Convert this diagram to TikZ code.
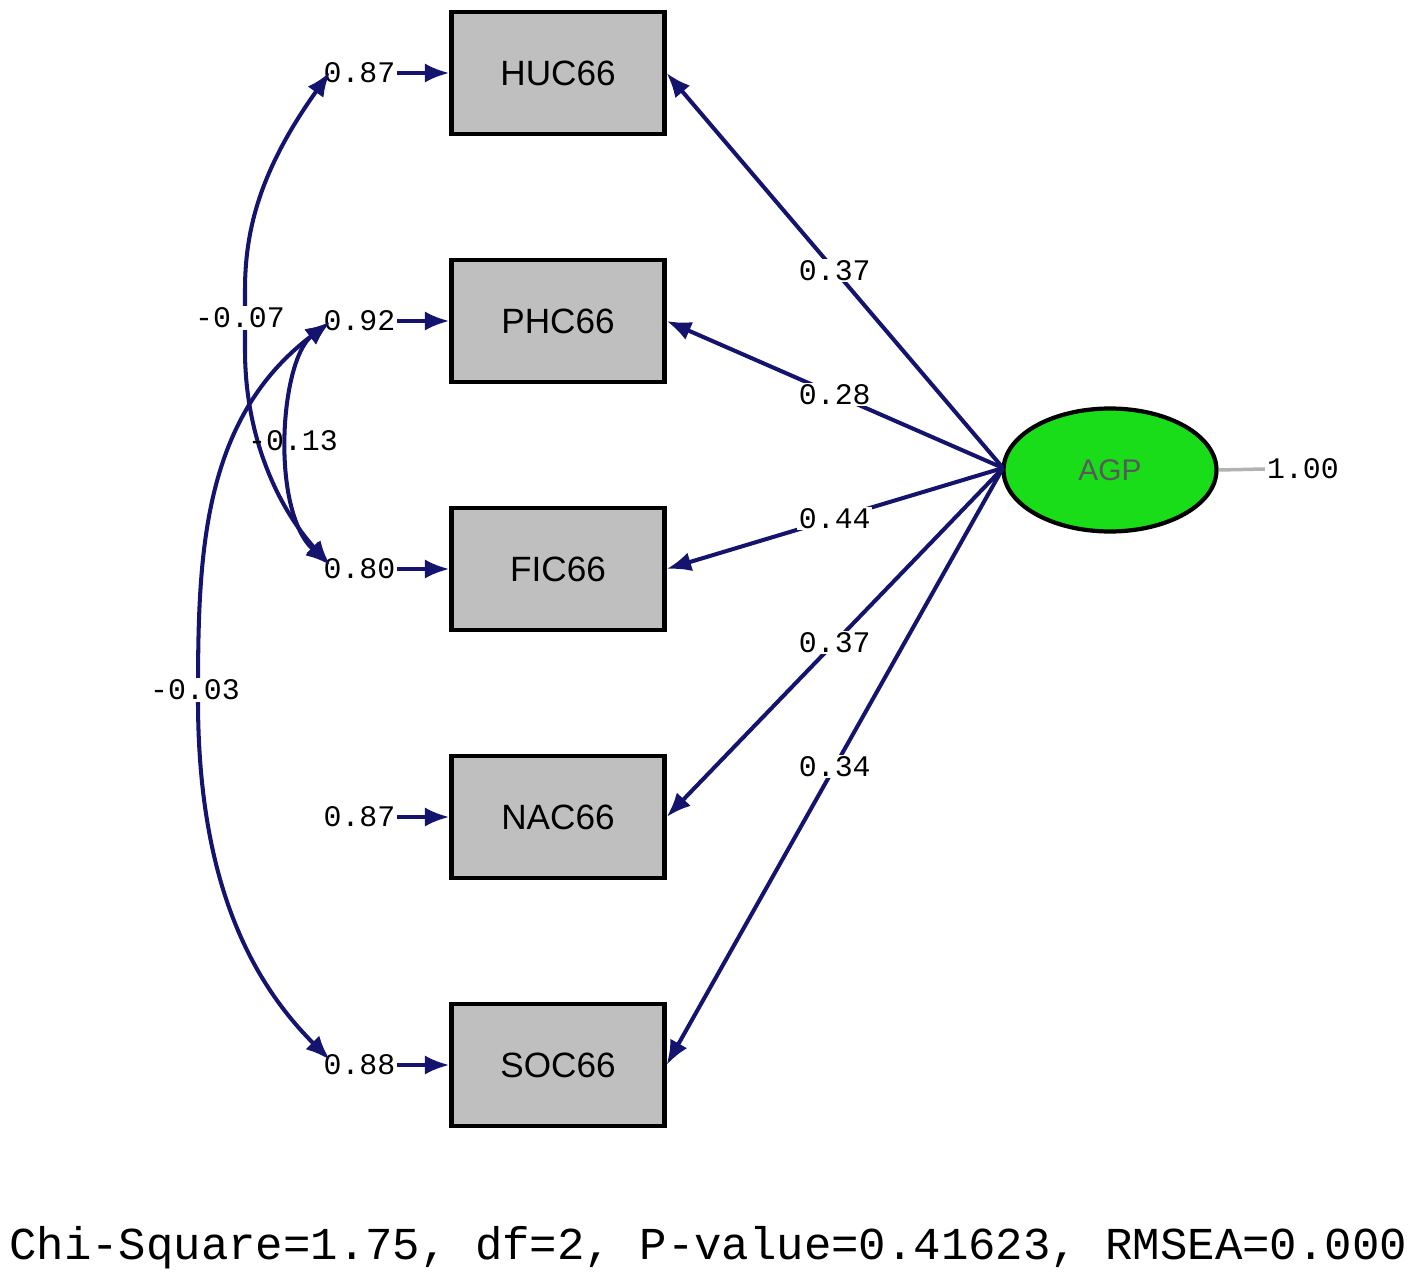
\documentclass[tikz,border=0pt]{standalone}
\usepackage{fontspec}
\setmainfont{Liberation Sans}
\newfontfamily\monof{Liberation Mono}
\usetikzlibrary{arrows.meta,shapes.geometric}
\definecolor{navy}{RGB}{20,20,110}
\tikzset{
 obs/.style={draw=black,line width=2.4pt,fill=gray!50,minimum width=4.26cm,minimum height=2.44cm,font=\fontsize{20}{22}\selectfont},
 num/.style={font=\monof\fontsize{17}{19}\selectfont,fill=white,inner sep=1pt},
 pth/.style={draw=navy,line width=2.3pt,-{Latex[length=14pt,width=11pt]}},
 cov/.style={draw=navy,line width=2.3pt,{Latex[length=14pt,width=11pt]}-{Latex[length=14pt,width=11pt]}}
}
\begin{document}
\begin{tikzpicture}[x=0.02cm,y=-0.02cm]
\useasboundingbox (0,0) rectangle (1417,1283);
\node[obs] (h) at (558,73) {HUC66};
\node[obs] (p) at (558,321) {PHC66};
\node[obs] (f) at (558,569) {FIC66};
\node[obs] (n) at (558,817) {NAC66};
\node[obs] (s) at (558,1065) {SOC66};
\node[ellipse,draw=black,line width=2.4pt,fill=green!85!black!90,minimum width=4.26cm,minimum height=2.46cm,text=gray!70!black,font=\fontsize{17}{19}\selectfont] (a) at (1110,470) {AGP};
\coordinate (g) at (1265,469);
\draw[gray!60,line width=2pt] (a.east) -- (g);
\node[num,anchor=west] at (g) {1.00};
\foreach \b/\v in {h/0.87,p/0.92,f/0.80,n/0.87,s/0.88}{
 \node[num,anchor=east,fill=none] (e\b) at ([xshift=-1.04cm]\b.west) {\v};
 \draw[pth] (e\b.east) -- (\b.west);
}
\coordinate (o) at (1003,468);
\draw[pth] (o) -- node[num,pos=0.5]{0.37} (h.east);
\draw[pth] (o) -- node[num,pos=0.5]{0.28} (p.east);
\draw[pth] (o) -- node[num,pos=0.5]{0.44} (f.east);
\draw[pth] (o) -- node[num,pos=0.5]{0.37} (n.east);
\draw[pth] (o) -- node[num,pos=0.5]{0.34} (s.east);
\draw[cov] (330,72) .. controls (260,170) and (245,230) .. (245,290) -- (245,350) .. controls (245,440) and (280,510) .. (330,565);
\draw[cov] (330,322) .. controls (280,360) and (270,510) .. (330,565);
\draw[cov] (330,322) .. controls (200,420) and (198,560) .. (198,700) .. controls (198,880) and (250,980) .. (330,1060);
\node[num] at (240,318) {-0.07};
\node[num,fill=none] at (293,441) {-0.13};
\node[num] at (195,690) {-0.03};
\node[font=\monof\fontsize{26}{28}\selectfont,anchor=west] (c) at (3,1248) {Chi-Square=1.75, df=2, P-value=0.41623, RMSEA=0.000};
\end{tikzpicture}
\end{document}
